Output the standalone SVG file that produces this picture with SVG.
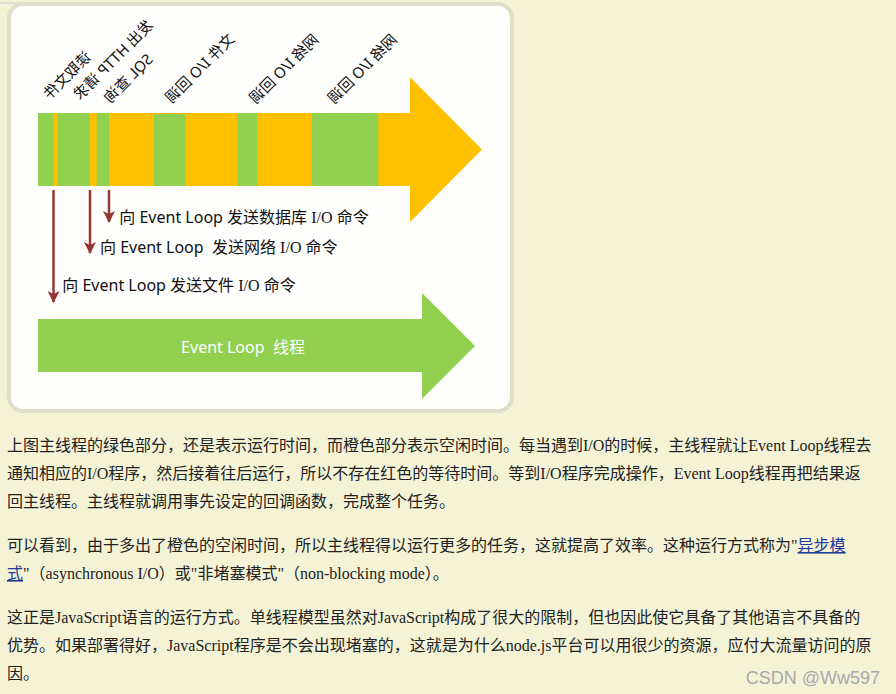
<svg xmlns="http://www.w3.org/2000/svg" width="896" height="694" viewBox="0 0 896 694">
<defs>
<style>
.lbl{font-family:"Noto Sans","Noto Sans CJK SC",sans-serif;font-size:15px;fill:#111;text-anchor:middle}
.ann{font-family:"Noto Sans","Noto Sans CJK SC",sans-serif;font-size:16px;fill:#111}
.serif{font-family:"Liberation Serif","Noto Sans CJK SC",serif}
.p{font-family:"Liberation Serif","Noto Sans CJK SC",serif;font-size:16px;fill:#222}
.link{fill:#1f3a9a;text-decoration:underline}
.g{fill:#92D050}
.o{fill:#FFC000}
.arr{stroke:#943634;stroke-width:2.5;fill:none;marker-end:url(#ah)}
</style>
<marker id="ah" markerUnits="userSpaceOnUse" viewBox="0 0 12 12" refX="11" refY="6" markerWidth="12" markerHeight="12" orient="auto"><path d="M0,0 L12,6 L0,12 L3,6 z" fill="#943634"/></marker>
<path id="p1" d="M-127,23 L-15,135"/>
<path id="p2" d="M-173,7.5 L-61,119.5"/>
<path id="p3" d="M-188,26 L-76,138"/>
<path id="p4" d="M-259.5,16 L-147.5,128"/>
<path id="p5" d="M-343.5,16.5 L-231.5,128.5"/>
<path id="p6" d="M-422,16.5 L-310,128.5"/>
</defs>
<rect x="0" y="0" width="896" height="694" fill="#F4F3D6"/>
<g id="card">
<line x1="0" y1="3" x2="500" y2="3" stroke="#dcdcd0" stroke-width="2"/>
<rect x="9" y="4" width="503" height="407" rx="14" fill="#FEFEFC" stroke="#E0DEC8" stroke-width="4"/>
</g>
<g id="main-thread">
<polygon class="o" points="38,113 410,113 410,77 482,149.5 410,222 410,186 38,186"/>
<rect class="g" x="38" y="113" width="15.3" height="73"/>
<rect class="g" x="58" y="113" width="32" height="73"/>
<rect class="g" x="96.7" y="113" width="12.3" height="73"/>
<rect class="g" x="154" y="114" width="31.3" height="72"/>
<rect class="g" x="237.7" y="113" width="19.6" height="73"/>
<rect class="g" x="311.7" y="113" width="66.6" height="73"/>
</g>
<g id="labels" transform="scale(-1,1)">
<text class="lbl"><textPath href="#p1" startOffset="50%">读取文件</textPath></text>
<text class="lbl"><textPath href="#p2" startOffset="50%">发出 HTTP 请求</textPath></text>
<text class="lbl"><textPath href="#p3" startOffset="50%">SQL 查询</textPath></text>
<text class="lbl"><textPath href="#p4" startOffset="50%">文件 I/O 回调</textPath></text>
<text class="lbl"><textPath href="#p5" startOffset="50%">网络 I/O 回调</textPath></text>
<text class="lbl"><textPath href="#p6" startOffset="50%">网络 I/O 回调</textPath></text>
</g>
<g id="connectors">
<line class="arr" x1="53.5" y1="190" x2="53.5" y2="302"/>
<line class="arr" x1="90" y1="190" x2="90" y2="253"/>
<line class="arr" x1="109" y1="190" x2="109" y2="222"/>
</g>
<g id="annotations">
<text class="ann" x="119.3" y="222.5">向 Event Loop 发送数据库 <tspan class="serif">I/O</tspan> 命令</text>
<text class="ann" x="100" y="252.5" xml:space="preserve">向 Event Loop  发送网络 <tspan class="serif">I/O</tspan> 命令</text>
<text class="ann" x="62.3" y="291">向 Event Loop 发送文件 <tspan class="serif">I/O</tspan> 命令</text>
</g>
<g id="event-loop">
<polygon class="g" points="38,319 422,319 422,293 475,346 422,399 422,372 38,372"/>
<text class="ann" x="243" y="352.5" text-anchor="middle" style="fill:#fff" xml:space="preserve">Event Loop  线程</text>
</g>
<g id="text">
<text class="p" x="7" y="451">上图主线程的绿色部分，还是表示运行时间，而橙色部分表示空闲时间。每当遇到I/O的时候，主线程就让Event Loop线程去</text>
<text class="p" x="7" y="479">通知相应的I/O程序，然后接着往后运行，所以不存在红色的等待时间。等到I/O程序完成操作，Event Loop线程再把结果返</text>
<text class="p" x="7" y="507">回主线程。主线程就调用事先设定的回调函数，完成整个任务。</text>
<text class="p" x="7" y="551">可以看到，由于多出了橙色的空闲时间，所以主线程得以运行更多的任务，这就提高了效率。这种运行方式称为"<tspan class="link">异步模</tspan></text>
<text class="p" x="7" y="579"><tspan class="link">式</tspan>"（asynchronous I/O）或"非堵塞模式"（non-blocking mode）。</text>
<text class="p" x="7" y="623">这正是JavaScript语言的运行方式。单线程模型虽然对JavaScript构成了很大的限制，但也因此使它具备了其他语言不具备的</text>
<text class="p" x="7" y="651">优势。如果部署得好，JavaScript程序是不会出现堵塞的，这就是为什么node.js平台可以用很少的资源，应付大流量访问的原</text>
<text class="p" x="7" y="679">因。</text>
<text x="880" y="684" text-anchor="end" font-family="Liberation Sans, Arial, sans-serif" font-size="18" fill="#a9a9a9">CSDN @Ww597</text>
</g>
</svg>
